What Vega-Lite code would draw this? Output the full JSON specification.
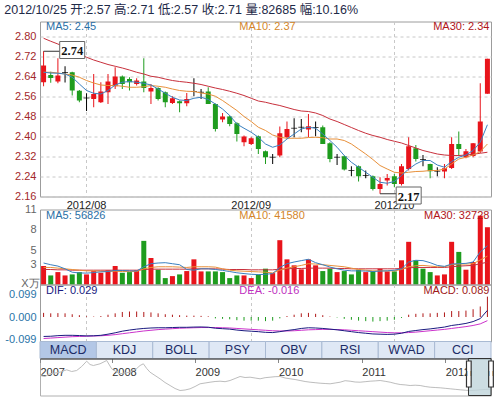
{
"$schema":"https://vega.github.io/schema/vega-lite/v6.json",
"padding":{"left":4,"top":3.5,"right":0,"bottom":0},
"background":"white",
"title":{"text":"2012/10/25 开:2.57 高:2.71 低:2.57 收:2.71 量:82685 幅:10.16%","anchor":"start","fontSize":12.5,"fontWeight":"normal","font":"Liberation Sans, Noto Sans CJK SC","color":"#1e2a48","offset":4},
"config":{"view":{"stroke":"#9c9c9c"},"axis":{"labelFont":"Liberation Sans","titleFont":"Liberation Sans","labelOverlap":false},"text":{"font":"Liberation Sans"}},
"datasets":{
"k":[
{"d":"07-24","o":2.616,"h":2.74,"l":2.60,"c":2.683,"dir":"up","v":2.71,"vd":"up","m5":2.656,"m10":2.656,"m30":2.792,"vm5":3.15,"vm10":2.5,"vm30":2.2,"dif":-0.085,"dea":-0.094,"macd":0.018},
{"d":"07-25","o":2.645,"h":2.658,"l":2.614,"c":2.633,"dir":"down","v":1.33,"vd":"down","m5":2.653,"m10":2.656,"m30":2.78,"vm5":2.9,"vm10":2.5,"vm30":2.2,"dif":-0.084,"dea":-0.092,"macd":0.016},
{"d":"07-26","o":2.619,"h":2.712,"l":2.612,"c":2.643,"dir":"up","v":1.82,"vd":"up","m5":2.652,"m10":2.653,"m30":2.769,"vm5":2.7,"vm10":2.4,"vm30":2.15,"dif":-0.0815,"dea":-0.09,"macd":0.017},
{"d":"07-27","o":2.655,"h":2.68,"l":2.615,"c":2.655,"dir":"flat","v":1.33,"vd":"up","m5":2.649,"m10":2.649,"m30":2.756,"vm5":2.3,"vm10":2.3,"vm30":2.15,"dif":-0.08,"dea":-0.088,"macd":0.016},
{"d":"07-30","o":2.656,"h":2.658,"l":2.563,"c":2.583,"dir":"down","v":1.48,"vd":"down","m5":2.636,"m10":2.645,"m30":2.743,"vm5":1.8,"vm10":2.2,"vm30":2.1,"dif":-0.08,"dea":-0.086,"macd":0.012},
{"d":"07-31","o":2.582,"h":2.585,"l":2.536,"c":2.543,"dir":"down","v":1.82,"vd":"down","m5":2.609,"m10":2.636,"m30":2.729,"vm5":1.7,"vm10":2.1,"vm30":2.1,"dif":-0.081,"dea":-0.085,"macd":0.008},
{"d":"08-01","o":2.553,"h":2.572,"l":2.501,"c":2.553,"dir":"flat","v":1.48,"vd":"up","m5":2.583,"m10":2.623,"m30":2.716,"vm5":1.67,"vm10":2.0,"vm30":2.1,"dif":-0.0825,"dea":-0.084,"macd":0.003},
{"d":"08-02","o":2.549,"h":2.649,"l":2.516,"c":2.569,"dir":"up","v":1.97,"vd":"up","m5":2.572,"m10":2.613,"m30":2.705,"vm5":1.75,"vm10":2.0,"vm30":2.1,"dif":-0.082,"dea":-0.083,"macd":0.002},
{"d":"08-03","o":2.536,"h":2.616,"l":2.533,"c":2.579,"dir":"up","v":1.72,"vd":"up","m5":2.569,"m10":2.605,"m30":2.696,"vm5":1.85,"vm10":1.95,"vm30":2.1,"dif":-0.08,"dea":-0.082,"macd":0.004},
{"d":"08-06","o":2.576,"h":2.649,"l":2.529,"c":2.619,"dir":"up","v":2.07,"vd":"up","m5":2.583,"m10":2.603,"m30":2.687,"vm5":1.9,"vm10":1.9,"vm30":2.1,"dif":-0.075,"dea":-0.08,"macd":0.01},
{"d":"08-07","o":2.60,"h":2.676,"l":2.589,"c":2.639,"dir":"up","v":2.71,"vd":"up","m5":2.605,"m10":2.603,"m30":2.68,"vm5":2.07,"vm10":1.95,"vm30":2.1,"dif":-0.069,"dea":-0.077,"macd":0.016},
{"d":"08-08","o":2.639,"h":2.643,"l":2.589,"c":2.609,"dir":"down","v":1.72,"vd":"down","m5":2.616,"m10":2.60,"m30":2.673,"vm5":2.05,"vm10":1.9,"vm30":2.1,"dif":-0.062,"dea":-0.073,"macd":0.022},
{"d":"08-09","o":2.629,"h":2.636,"l":2.583,"c":2.616,"dir":"down","v":1.82,"vd":"down","m5":2.619,"m10":2.596,"m30":2.665,"vm5":2.0,"vm10":1.9,"vm30":2.1,"dif":-0.057,"dea":-0.069,"macd":0.024},
{"d":"08-10","o":2.609,"h":2.632,"l":2.603,"c":2.623,"dir":"up","v":2.07,"vd":"up","m5":2.616,"m10":2.596,"m30":2.656,"vm5":1.97,"vm10":1.9,"vm30":2.1,"dif":-0.053,"dea":-0.065,"macd":0.024},
{"d":"08-13","o":2.619,"h":2.712,"l":2.576,"c":2.593,"dir":"down","v":6.4,"vd":"down","m5":2.612,"m10":2.598,"m30":2.649,"vm5":2.6,"vm10":2.3,"vm30":2.2,"dif":-0.05,"dea":-0.061,"macd":0.022},
{"d":"08-14","o":2.579,"h":2.609,"l":2.529,"c":2.593,"dir":"up","v":3.89,"vd":"up","m5":2.605,"m10":2.603,"m30":2.64,"vm5":3.05,"vm10":2.5,"vm30":2.25,"dif":-0.048,"dea":-0.058,"macd":0.02},
{"d":"08-15","o":2.593,"h":2.596,"l":2.543,"c":2.549,"dir":"down","v":2.17,"vd":"down","m5":2.589,"m10":2.60,"m30":2.636,"vm5":3.15,"vm10":2.6,"vm30":2.25,"dif":-0.047,"dea":-0.055,"macd":0.016},
{"d":"08-16","o":2.576,"h":2.579,"l":2.516,"c":2.536,"dir":"down","v":0.94,"vd":"down","m5":2.572,"m10":2.596,"m30":2.629,"vm5":3.2,"vm10":2.6,"vm30":2.25,"dif":-0.047,"dea":-0.053,"macd":0.012},
{"d":"08-17","o":2.533,"h":2.56,"l":2.529,"c":2.552,"dir":"up","v":1.23,"vd":"up","m5":2.556,"m10":2.589,"m30":2.623,"vm5":3.05,"vm10":2.6,"vm30":2.25,"dif":-0.046,"dea":-0.051,"macd":0.01},
{"d":"08-20","o":2.54,"h":2.543,"l":2.496,"c":2.532,"dir":"down","v":1.48,"vd":"down","m5":2.545,"m10":2.583,"m30":2.619,"vm5":2.9,"vm10":2.55,"vm30":2.25,"dif":-0.045,"dea":-0.049,"macd":0.008},
{"d":"08-21","o":2.532,"h":2.573,"l":2.52,"c":2.549,"dir":"up","v":1.97,"vd":"up","m5":2.543,"m10":2.58,"m30":2.616,"vm5":2.2,"vm10":2.5,"vm30":2.25,"dif":-0.045,"dea":-0.048,"macd":0.006},
{"d":"08-22","o":2.579,"h":2.632,"l":2.56,"c":2.579,"dir":"flat","v":3.69,"vd":"up","m5":2.552,"m10":2.579,"m30":2.612,"vm5":2.1,"vm10":2.6,"vm30":2.3,"dif":-0.044,"dea":-0.047,"macd":0.006},
{"d":"08-23","o":2.576,"h":2.589,"l":2.549,"c":2.576,"dir":"flat","v":1.92,"vd":"up","m5":2.556,"m10":2.573,"m30":2.607,"vm5":2.3,"vm10":2.6,"vm30":2.3,"dif":-0.0435,"dea":-0.046,"macd":0.005},
{"d":"08-24","o":2.579,"h":2.596,"l":2.529,"c":2.529,"dir":"down","v":1.92,"vd":"down","m5":2.547,"m10":2.569,"m30":2.60,"vm5":2.3,"vm10":2.6,"vm30":2.3,"dif":-0.0445,"dea":-0.046,"macd":0.003},
{"d":"08-27","o":2.529,"h":2.531,"l":2.419,"c":2.429,"dir":"down","v":1.92,"vd":"down","m5":2.529,"m10":2.56,"m30":2.593,"vm5":2.2,"vm10":2.55,"vm30":2.3,"dif":-0.049,"dea":-0.046,"macd":-0.006},
{"d":"08-28","o":2.467,"h":2.493,"l":2.456,"c":2.479,"dir":"up","v":1.82,"vd":"down","m5":2.509,"m10":2.543,"m30":2.587,"vm5":2.07,"vm10":2.3,"vm30":2.25,"dif":-0.051,"dea":-0.047,"macd":-0.008},
{"d":"08-29","o":2.479,"h":2.483,"l":2.44,"c":2.449,"dir":"down","v":0.94,"vd":"down","m5":2.483,"m10":2.523,"m30":2.58,"vm5":1.9,"vm10":2.1,"vm30":2.2,"dif":-0.053,"dea":-0.048,"macd":-0.01},
{"d":"08-30","o":2.452,"h":2.456,"l":2.379,"c":2.409,"dir":"down","v":1.33,"vd":"down","m5":2.449,"m10":2.503,"m30":2.572,"vm5":1.72,"vm10":2.0,"vm30":2.2,"dif":-0.057,"dea":-0.05,"macd":-0.014},
{"d":"08-31","o":2.376,"h":2.403,"l":2.36,"c":2.399,"dir":"up","v":1.33,"vd":"up","m5":2.432,"m10":2.479,"m30":2.563,"vm5":1.6,"vm10":1.95,"vm30":2.2,"dif":-0.06,"dea":-0.052,"macd":-0.016},
{"d":"09-03","o":2.369,"h":2.396,"l":2.365,"c":2.392,"dir":"up","v":0.94,"vd":"up","m5":2.416,"m10":2.459,"m30":2.552,"vm5":1.5,"vm10":1.9,"vm30":2.15,"dif":-0.062,"dea":-0.054,"macd":-0.016},
{"d":"09-04","o":2.40,"h":2.403,"l":2.329,"c":2.349,"dir":"down","v":1.48,"vd":"down","m5":2.396,"m10":2.436,"m30":2.541,"vm5":1.45,"vm10":1.85,"vm30":2.15,"dif":-0.064,"dea":-0.056,"macd":-0.016},
{"d":"09-05","o":2.34,"h":2.343,"l":2.289,"c":2.316,"dir":"down","v":2.32,"vd":"down","m5":2.369,"m10":2.423,"m30":2.536,"vm5":1.5,"vm10":1.8,"vm30":2.15,"dif":-0.067,"dea":-0.058,"macd":-0.018},
{"d":"09-06","o":2.316,"h":2.329,"l":2.289,"c":2.316,"dir":"flat","v":1.67,"vd":"up","m5":2.356,"m10":2.405,"m30":2.529,"vm5":1.6,"vm10":1.7,"vm30":2.15,"dif":-0.068,"dea":-0.06,"macd":-0.016},
{"d":"09-07","o":2.323,"h":2.439,"l":2.316,"c":2.412,"dir":"up","v":6.5,"vd":"up","m5":2.365,"m10":2.396,"m30":2.523,"vm5":2.5,"vm10":2.1,"vm30":2.25,"dif":-0.064,"dea":-0.061,"macd":-0.006},
{"d":"09-10","o":2.396,"h":2.459,"l":2.392,"c":2.429,"dir":"up","v":3.69,"vd":"up","m5":2.389,"m10":2.392,"m30":2.515,"vm5":3.05,"vm10":2.4,"vm30":2.3,"dif":-0.059,"dea":-0.061,"macd":0.004},
{"d":"09-11","o":2.432,"h":2.472,"l":2.396,"c":2.432,"dir":"flat","v":2.81,"vd":"up","m5":2.409,"m10":2.392,"m30":2.507,"vm5":3.3,"vm10":2.6,"vm30":2.35,"dif":-0.055,"dea":-0.06,"macd":0.01},
{"d":"09-12","o":2.436,"h":2.469,"l":2.416,"c":2.436,"dir":"flat","v":2.22,"vd":"up","m5":2.429,"m10":2.392,"m30":2.501,"vm5":3.5,"vm10":2.8,"vm30":2.35,"dif":-0.05,"dea":-0.058,"macd":0.016},
{"d":"09-13","o":2.427,"h":2.489,"l":2.396,"c":2.44,"dir":"up","v":3.69,"vd":"up","m5":2.436,"m10":2.395,"m30":2.499,"vm5":3.7,"vm10":3.05,"vm30":2.4,"dif":-0.047,"dea":-0.056,"macd":0.018},
{"d":"09-14","o":2.435,"h":2.459,"l":2.40,"c":2.435,"dir":"flat","v":2.81,"vd":"up","m5":2.432,"m10":2.396,"m30":2.493,"vm5":3.2,"vm10":3.0,"vm30":2.4,"dif":-0.048,"dea":-0.055,"macd":0.014},
{"d":"09-17","o":2.436,"h":2.443,"l":2.369,"c":2.369,"dir":"down","v":1.97,"vd":"down","m5":2.409,"m10":2.394,"m30":2.483,"vm5":2.9,"vm10":2.9,"vm30":2.4,"dif":-0.05,"dea":-0.054,"macd":0.008},
{"d":"09-18","o":2.372,"h":2.376,"l":2.296,"c":2.309,"dir":"down","v":2.32,"vd":"down","m5":2.383,"m10":2.389,"m30":2.469,"vm5":2.56,"vm10":2.8,"vm30":2.4,"dif":-0.053,"dea":-0.054,"macd":0.002},
{"d":"09-19","o":2.316,"h":2.329,"l":2.285,"c":2.316,"dir":"flat","v":1.82,"vd":"up","m5":2.356,"m10":2.389,"m30":2.459,"vm5":2.3,"vm10":2.7,"vm30":2.35,"dif":-0.056,"dea":-0.055,"macd":-0.002},
{"d":"09-20","o":2.32,"h":2.323,"l":2.263,"c":2.267,"dir":"down","v":1.97,"vd":"down","m5":2.323,"m10":2.383,"m30":2.447,"vm5":2.1,"vm10":2.6,"vm30":2.35,"dif":-0.06,"dea":-0.056,"macd":-0.008},
{"d":"09-21","o":2.263,"h":2.28,"l":2.24,"c":2.263,"dir":"flat","v":1.48,"vd":"down","m5":2.296,"m10":2.369,"m30":2.435,"vm5":2.0,"vm10":2.4,"vm30":2.3,"dif":-0.064,"dea":-0.058,"macd":-0.012},
{"d":"09-24","o":2.28,"h":2.283,"l":2.219,"c":2.24,"dir":"down","v":2.17,"vd":"down","m5":2.276,"m10":2.349,"m30":2.423,"vm5":2.0,"vm10":2.2,"vm30":2.3,"dif":-0.068,"dea":-0.06,"macd":-0.016},
{"d":"09-25","o":2.243,"h":2.263,"l":2.232,"c":2.243,"dir":"flat","v":1.82,"vd":"up","m5":2.256,"m10":2.329,"m30":2.412,"vm5":1.97,"vm10":2.1,"vm30":2.3,"dif":-0.071,"dea":-0.062,"macd":-0.018},
{"d":"09-26","o":2.24,"h":2.243,"l":2.183,"c":2.189,"dir":"down","v":1.97,"vd":"down","m5":2.236,"m10":2.307,"m30":2.403,"vm5":1.9,"vm10":2.0,"vm30":2.3,"dif":-0.074,"dea":-0.064,"macd":-0.02},
{"d":"09-27","o":2.189,"h":2.236,"l":2.17,"c":2.209,"dir":"up","v":2.32,"vd":"up","m5":2.216,"m10":2.283,"m30":2.396,"vm5":1.97,"vm10":2.0,"vm30":2.3,"dif":-0.075,"dea":-0.066,"macd":-0.018},
{"d":"09-28","o":2.223,"h":2.249,"l":2.203,"c":2.233,"dir":"up","v":1.92,"vd":"up","m5":2.212,"m10":2.269,"m30":2.387,"vm5":2.0,"vm10":2.0,"vm30":2.3,"dif":-0.076,"dea":-0.068,"macd":-0.016},
{"d":"10-08","o":2.24,"h":2.249,"l":2.196,"c":2.209,"dir":"down","v":1.92,"vd":"down","m5":2.219,"m10":2.256,"m30":2.38,"vm5":2.1,"vm10":2.0,"vm30":2.3,"dif":-0.075,"dea":-0.069,"macd":-0.012},
{"d":"10-09","o":2.209,"h":2.289,"l":2.203,"c":2.28,"dir":"up","v":3.55,"vd":"up","m5":2.243,"m10":2.253,"m30":2.373,"vm5":2.3,"vm10":2.2,"vm30":2.35,"dif":-0.071,"dea":-0.069,"macd":-0.004},
{"d":"10-10","o":2.269,"h":2.396,"l":2.263,"c":2.36,"dir":"up","v":6.26,"vd":"up","m5":2.269,"m10":2.256,"m30":2.363,"vm5":3.3,"vm10":2.6,"vm30":2.45,"dif":-0.063,"dea":-0.068,"macd":0.01},
{"d":"10-11","o":2.352,"h":2.365,"l":2.299,"c":2.309,"dir":"down","v":3.55,"vd":"down","m5":2.289,"m10":2.259,"m30":2.353,"vm5":3.55,"vm10":2.75,"vm30":2.5,"dif":-0.059,"dea":-0.066,"macd":0.014},
{"d":"10-12","o":2.307,"h":2.325,"l":2.28,"c":2.307,"dir":"flat","v":2.32,"vd":"down","m5":2.303,"m10":2.26,"m30":2.343,"vm5":3.5,"vm10":2.8,"vm30":2.5,"dif":-0.055,"dea":-0.063,"macd":0.016},
{"d":"10-15","o":2.289,"h":2.29,"l":2.232,"c":2.26,"dir":"down","v":1.82,"vd":"down","m5":2.303,"m10":2.263,"m30":2.336,"vm5":3.2,"vm10":2.7,"vm30":2.5,"dif":-0.052,"dea":-0.06,"macd":0.016},
{"d":"10-16","o":2.26,"h":2.276,"l":2.24,"c":2.26,"dir":"flat","v":1.33,"vd":"up","m5":2.285,"m10":2.263,"m30":2.329,"vm5":2.8,"vm10":2.6,"vm30":2.5,"dif":-0.048,"dea":-0.057,"macd":0.018},
{"d":"10-17","o":2.259,"h":2.289,"l":2.232,"c":2.272,"dir":"up","v":1.48,"vd":"up","m5":2.276,"m10":2.269,"m30":2.325,"vm5":2.66,"vm10":2.6,"vm30":2.5,"dif":-0.044,"dea":-0.054,"macd":0.02},
{"d":"10-18","o":2.273,"h":2.396,"l":2.269,"c":2.369,"dir":"up","v":6.26,"vd":"up","m5":2.299,"m10":2.289,"m30":2.323,"vm5":3.0,"vm10":2.9,"vm30":2.6,"dif":-0.037,"dea":-0.05,"macd":0.026},
{"d":"10-19","o":2.369,"h":2.419,"l":2.32,"c":2.349,"dir":"down","v":4.78,"vd":"down","m5":2.316,"m10":2.309,"m30":2.323,"vm5":3.05,"vm10":3.0,"vm30":2.7,"dif":-0.033,"dea":-0.046,"macd":0.026},
{"d":"10-22","o":2.316,"h":2.349,"l":2.312,"c":2.34,"dir":"up","v":2.17,"vd":"up","m5":2.325,"m10":2.316,"m30":2.325,"vm5":3.1,"vm10":3.0,"vm30":2.75,"dif":-0.028,"dea":-0.042,"macd":0.028},
{"d":"10-23","o":2.321,"h":2.373,"l":2.316,"c":2.372,"dir":"up","v":3.3,"vd":"up","m5":2.343,"m10":2.325,"m30":2.328,"vm5":3.3,"vm10":3.05,"vm30":2.8,"dif":-0.02,"dea":-0.037,"macd":0.034},
{"d":"10-24","o":2.339,"h":2.612,"l":2.333,"c":2.459,"dir":"up","v":10.1,"vd":"up","m5":2.376,"m10":2.339,"m30":2.332,"vm5":4.78,"vm10":3.6,"vm30":3.05,"dif":-0.007,"dea":-0.03,"macd":0.046},
{"d":"10-25","o":2.57,"h":2.71,"l":2.57,"c":2.71,"dir":"up","v":8.4,"vd":"up","m5":2.446,"m10":2.369,"m30":2.336,"vm5":5.68,"vm10":4.16,"vm30":3.27,"dif":0.029,"dea":-0.016,"macd":0.089}
],
"ov":[
{"t":2007.14,"v":20},{"t":2007.2,"v":19},{"t":2007.26,"v":21.7},{"t":2007.32,"v":22.5},{"t":2007.38,"v":23.3},{"t":2007.46,"v":25.7},{"t":2007.52,"v":24},{"t":2007.58,"v":25},{"t":2007.64,"v":29},{"t":2007.7,"v":34.3},{"t":2007.74,"v":31},{"t":2007.78,"v":30},{"t":2007.86,"v":31.7},{"t":2007.94,"v":35},{"t":2008.0,"v":26.7},{"t":2008.05,"v":24},{"t":2008.1,"v":21.7},{"t":2008.16,"v":22.5},{"t":2008.22,"v":23.3},{"t":2008.3,"v":27},{"t":2008.34,"v":30},{"t":2008.38,"v":31.7},{"t":2008.42,"v":27},{"t":2008.46,"v":23.3},{"t":2008.52,"v":20},{"t":2008.58,"v":16.7},{"t":2008.64,"v":13},{"t":2008.7,"v":10},{"t":2008.76,"v":7},{"t":2008.82,"v":5},{"t":2008.88,"v":5.5},{"t":2008.94,"v":6.7},{"t":2009.0,"v":9},{"t":2009.06,"v":11.7},{"t":2009.12,"v":12.5},{"t":2009.18,"v":13.3},{"t":2009.24,"v":14},{"t":2009.3,"v":14.3},{"t":2009.36,"v":13.8},{"t":2009.42,"v":15},{"t":2009.48,"v":17},{"t":2009.54,"v":19},{"t":2009.6,"v":18},{"t":2009.66,"v":18.3},{"t":2009.72,"v":17.5},{"t":2009.78,"v":16.7},{"t":2009.84,"v":17.8},{"t":2009.9,"v":18.3},{"t":2009.96,"v":18.8},{"t":2010.02,"v":19},{"t":2010.08,"v":17.5},{"t":2010.14,"v":16.7},{"t":2010.2,"v":16},{"t":2010.26,"v":15},{"t":2010.32,"v":14},{"t":2010.38,"v":13.3},{"t":2010.44,"v":12.8},{"t":2010.5,"v":12.3},{"t":2010.56,"v":12},{"t":2010.62,"v":11.7},{"t":2010.68,"v":12.5},{"t":2010.74,"v":13.3},{"t":2010.8,"v":14.8},{"t":2010.86,"v":14.3},{"t":2010.92,"v":13.5},{"t":2010.98,"v":13.3},{"t":2011.04,"v":13.8},{"t":2011.1,"v":14.3},{"t":2011.16,"v":14.6},{"t":2011.22,"v":15},{"t":2011.28,"v":14.2},{"t":2011.34,"v":13.3},{"t":2011.4,"v":12},{"t":2011.46,"v":11},{"t":2011.52,"v":10.6},{"t":2011.58,"v":10},{"t":2011.64,"v":10.3},{"t":2011.7,"v":10},{"t":2011.76,"v":9},{"t":2011.82,"v":8.3},{"t":2011.88,"v":8},{"t":2011.94,"v":7.7},{"t":2012.0,"v":7.2},{"t":2012.06,"v":6.7},{"t":2012.12,"v":6.2},{"t":2012.18,"v":5.7},{"t":2012.24,"v":5.3},{"t":2012.3,"v":5},{"t":2012.36,"v":5.3},{"t":2012.42,"v":5.7},{"t":2012.48,"v":6},{"t":2012.54,"v":6.3}
],
"tabs":[{"n":"MACD","s":"y"},{"n":"KDJ","s":"n"},{"n":"BOLL","s":"n"},{"n":"PSY","s":"n"},{"n":"OBV","s":"n"},{"n":"RSI","s":"n"},{"n":"WVAD","s":"n"},{"n":"CCI","s":"n"}]
},
"spacing":13,
"bounds":"flush",
"resolve":{"scale":{"color":"independent"}},
"vconcat":[
{
"width":451,"height":175,
"encoding":{"x":{"field":"d","type":"ordinal","scale":{"type":"band","paddingInner":0,"paddingOuter":0},"axis":{"values":["08-01","09-03","10-08"],"labelExpr":"datum.value=='08-01'?'2012/08':datum.value=='09-03'?'2012/09':'2012/10'","title":null,"ticks":false,"domain":false,"grid":true,"gridDash":[3,3],"gridColor":"#c8c8c8","bandPosition":0.5,"labelColor":"#222222","labelFontSize":11,"labelPadding":3,"labelAngle":0}}},
"layer":[
{"data":{"name":"k"},"mark":{"type":"rule","strokeWidth":1},"encoding":{"y":{"field":"l","type":"quantitative","scale":{"domain":[2.159,2.859],"zero":false,"nice":false},"axis":{"values":[2.16,2.24,2.32,2.40,2.48,2.56,2.64,2.72,2.80],"format":".2f","title":null,"ticks":false,"domain":false,"grid":true,"gridDash":[3,3],"gridColor":"#c8c8c8","labelColor":"#a3282b","labelFontSize":11,"labelPadding":4,"labelOverlap":false}},"y2":{"field":"h"},"color":{"field":"dir","type":"nominal","scale":{"domain":["up","down","flat"],"range":["#e8141b","#1e9c1e","#000000"]},"legend":null}}},
{"data":{"name":"k"},"mark":{"type":"bar","size":5},"encoding":{"y":{"field":"o","type":"quantitative","axis":{"values":[2.16,2.24,2.32,2.40,2.48,2.56,2.64,2.72,2.80],"format":".2f","title":null,"ticks":false,"domain":false,"grid":true,"gridDash":[3,3],"gridColor":"#c8c8c8","labelColor":"#a3282b","labelFontSize":11,"labelPadding":4,"labelOverlap":false}},"y2":{"field":"c"},"color":{"field":"dir","type":"nominal","legend":null}}},
{"data":{"name":"k"},"transform":[{"filter":"datum.dir=='flat'"}],"mark":{"type":"tick","size":6,"thickness":1,"color":"#000000"},"encoding":{"y":{"field":"c","type":"quantitative","axis":{"values":[2.16,2.24,2.32,2.40,2.48,2.56,2.64,2.72,2.80],"format":".2f","title":null,"ticks":false,"domain":false,"grid":true,"gridDash":[3,3],"gridColor":"#c8c8c8","labelColor":"#a3282b","labelFontSize":11,"labelPadding":4,"labelOverlap":false}}}},
{"data":{"name":"k"},"mark":{"type":"line","color":"#c8303c","strokeWidth":1},"encoding":{"y":{"field":"m30","type":"quantitative","axis":{"values":[2.16,2.24,2.32,2.40,2.48,2.56,2.64,2.72,2.80],"format":".2f","title":null,"ticks":false,"domain":false,"grid":true,"gridDash":[3,3],"gridColor":"#c8c8c8","labelColor":"#a3282b","labelFontSize":11,"labelPadding":4,"labelOverlap":false}}}},
{"data":{"name":"k"},"mark":{"type":"line","color":"#e8903a","strokeWidth":1},"encoding":{"y":{"field":"m10","type":"quantitative","axis":{"values":[2.16,2.24,2.32,2.40,2.48,2.56,2.64,2.72,2.80],"format":".2f","title":null,"ticks":false,"domain":false,"grid":true,"gridDash":[3,3],"gridColor":"#c8c8c8","labelColor":"#a3282b","labelFontSize":11,"labelPadding":4,"labelOverlap":false}}}},
{"data":{"name":"k"},"mark":{"type":"line","color":"#3a80c0","strokeWidth":1},"encoding":{"y":{"field":"m5","type":"quantitative","axis":{"values":[2.16,2.24,2.32,2.40,2.48,2.56,2.64,2.72,2.80],"format":".2f","title":null,"ticks":false,"domain":false,"grid":true,"gridDash":[3,3],"gridColor":"#c8c8c8","labelColor":"#a3282b","labelFontSize":11,"labelPadding":4,"labelOverlap":false}}}},
{"data":{"values":[{"d":"07-24","y":2.74,"g":"a"},{"d":"07-30","y":2.74,"g":"a"},{"d":"09-27","y":2.17,"g":"b"},{"d":"10-10","y":2.17,"g":"b"}]},"mark":{"type":"line","color":"#333333","strokeWidth":1},"encoding":{"y":{"field":"y","type":"quantitative","axis":{"values":[2.16,2.24,2.32,2.40,2.48,2.56,2.64,2.72,2.80],"format":".2f","title":null,"ticks":false,"domain":false,"grid":true,"gridDash":[3,3],"gridColor":"#c8c8c8","labelColor":"#a3282b","labelFontSize":11,"labelPadding":4,"labelOverlap":false}},"detail":{"field":"g"}}},
{"data":{"values":[{"d":"07-30","y":2.745,"t":"2.74"},{"d":"10-10","y":2.163,"t":"2.17"}]},"mark":{"type":"point","shape":"M-1,-0.68H1V0.68H-1Z","size":625,"filled":true,"fill":"white","stroke":"#666666","strokeWidth":1,"opacity":1},"encoding":{"y":{"field":"y","type":"quantitative","axis":{"values":[2.16,2.24,2.32,2.40,2.48,2.56,2.64,2.72,2.80],"format":".2f","title":null,"ticks":false,"domain":false,"grid":true,"gridDash":[3,3],"gridColor":"#c8c8c8","labelColor":"#a3282b","labelFontSize":11,"labelPadding":4,"labelOverlap":false}}}},
{"data":{"values":[{"d":"07-30","y":2.745,"t":"2.74"},{"d":"10-10","y":2.163,"t":"2.17"}]},"mark":{"type":"text","font":"Liberation Serif","fontWeight":"bold","fontSize":12.5,"color":"#111111","baseline":"middle","dy":1},"encoding":{"y":{"field":"y","type":"quantitative","axis":{"values":[2.16,2.24,2.32,2.40,2.48,2.56,2.64,2.72,2.80],"format":".2f","title":null,"ticks":false,"domain":false,"grid":true,"gridDash":[3,3],"gridColor":"#c8c8c8","labelColor":"#a3282b","labelFontSize":11,"labelPadding":4,"labelOverlap":false}},"text":{"field":"t"}}},
{"data":{"values":[{"d":"07-24","y":2.838,"t":"MA5: 2.45","c":"a"},{"d":"08-30","y":2.838,"t":"MA10: 2.37","c":"b"}]},"mark":{"type":"text","align":"left","baseline":"middle","dx":2.5,"fontSize":11},"encoding":{"y":{"field":"y","type":"quantitative","axis":{"values":[2.16,2.24,2.32,2.40,2.48,2.56,2.64,2.72,2.80],"format":".2f","title":null,"ticks":false,"domain":false,"grid":true,"gridDash":[3,3],"gridColor":"#c8c8c8","labelColor":"#a3282b","labelFontSize":11,"labelPadding":4,"labelOverlap":false}},"text":{"field":"t"},"color":{"condition":{"test":"datum.c=='a'","value":"#2a6fa6"},"value":"#d4862a"}}},
{"data":{"values":[{"d":"10-25","y":2.838,"t":"MA30: 2.34"}]},"mark":{"type":"text","align":"right","baseline":"middle","dx":2,"fontSize":11,"color":"#b0151a"},"encoding":{"y":{"field":"y","type":"quantitative","axis":{"values":[2.16,2.24,2.32,2.40,2.48,2.56,2.64,2.72,2.80],"format":".2f","title":null,"ticks":false,"domain":false,"grid":true,"gridDash":[3,3],"gridColor":"#c8c8c8","labelColor":"#a3282b","labelFontSize":11,"labelPadding":4,"labelOverlap":false}},"text":{"field":"t"}}}
]
},
{
"spacing":0,
"bounds":"flush",
"resolve":{"scale":{"color":"independent"}},
"vconcat":[
{
"width":451,"height":75,
"encoding":{"x":{"field":"d","type":"ordinal","scale":{"type":"band","paddingInner":0,"paddingOuter":0},"axis":{"values":["08-01","09-03","10-08"],"labels":false,"title":null,"ticks":false,"domain":false,"grid":true,"gridDash":[3,3],"gridColor":"#c8c8c8","bandPosition":0.5}}},
"layer":[
{"data":{"name":"k"},"mark":{"type":"bar","size":5},"encoding":{"y":{"field":"v","type":"quantitative","scale":{"domain":[0,11],"nice":false},"axis":{"values":[3,5,8,11],"title":"X万","titleAngle":0,"titleX":-10,"titleY":74,"titleAlign":"center","titleBaseline":"middle","titleFontSize":11,"titleFontWeight":"normal","titleColor":"#666666","ticks":false,"domain":false,"grid":false,"labelColor":"#666666","labelFontSize":11,"labelPadding":4,"labelOverlap":false}},"color":{"condition":{"test":"datum.vd=='up'","value":"#e8141b"},"value":"#1e9c1e"}}},
{"data":{"name":"k"},"mark":{"type":"line","color":"#c8303c","strokeWidth":1},"encoding":{"y":{"field":"vm30","type":"quantitative","axis":{"values":[3,5,8,11],"title":"X万","titleAngle":0,"titleX":-10,"titleY":74,"titleAlign":"center","titleBaseline":"middle","titleFontSize":11,"titleFontWeight":"normal","titleColor":"#666666","ticks":false,"domain":false,"grid":false,"labelColor":"#666666","labelFontSize":11,"labelPadding":4,"labelOverlap":false}}}},
{"data":{"name":"k"},"mark":{"type":"line","color":"#e8903a","strokeWidth":1},"encoding":{"y":{"field":"vm10","type":"quantitative","axis":{"values":[3,5,8,11],"title":"X万","titleAngle":0,"titleX":-10,"titleY":74,"titleAlign":"center","titleBaseline":"middle","titleFontSize":11,"titleFontWeight":"normal","titleColor":"#666666","ticks":false,"domain":false,"grid":false,"labelColor":"#666666","labelFontSize":11,"labelPadding":4,"labelOverlap":false}}}},
{"data":{"name":"k"},"mark":{"type":"line","color":"#3a80c0","strokeWidth":1},"encoding":{"y":{"field":"vm5","type":"quantitative","axis":{"values":[3,5,8,11],"title":"X万","titleAngle":0,"titleX":-10,"titleY":74,"titleAlign":"center","titleBaseline":"middle","titleFontSize":11,"titleFontWeight":"normal","titleColor":"#666666","ticks":false,"domain":false,"grid":false,"labelColor":"#666666","labelFontSize":11,"labelPadding":4,"labelOverlap":false}}}},
{"data":{"values":[{"d":"07-24","y":10.04,"t":"MA5: 56826","c":"a"},{"d":"08-30","y":10.04,"t":"MA10: 41580","c":"b"}]},"mark":{"type":"text","align":"left","baseline":"middle","dx":2.5,"fontSize":11},"encoding":{"y":{"field":"y","type":"quantitative","axis":{"values":[3,5,8,11],"title":"X万","titleAngle":0,"titleX":-10,"titleY":74,"titleAlign":"center","titleBaseline":"middle","titleFontSize":11,"titleFontWeight":"normal","titleColor":"#666666","ticks":false,"domain":false,"grid":false,"labelColor":"#666666","labelFontSize":11,"labelPadding":4,"labelOverlap":false}},"text":{"field":"t"},"color":{"condition":{"test":"datum.c=='a'","value":"#2a6fa6"},"value":"#d4862a"}}},
{"data":{"values":[{"d":"10-25","y":10.04,"t":"MA30: 32728"}]},"mark":{"type":"text","align":"right","baseline":"middle","dx":2,"fontSize":11,"color":"#b0151a"},"encoding":{"y":{"field":"y","type":"quantitative","axis":{"values":[3,5,8,11],"title":"X万","titleAngle":0,"titleX":-10,"titleY":74,"titleAlign":"center","titleBaseline":"middle","titleFontSize":11,"titleFontWeight":"normal","titleColor":"#666666","ticks":false,"domain":false,"grid":false,"labelColor":"#666666","labelFontSize":11,"labelPadding":4,"labelOverlap":false}},"text":{"field":"t"}}}
]
},
{
"width":451,"height":57,
"encoding":{"x":{"field":"d","type":"ordinal","scale":{"type":"band","paddingInner":0,"paddingOuter":0},"axis":{"values":["08-01","09-03","10-08"],"labels":false,"title":null,"ticks":false,"domain":false,"grid":true,"gridDash":[3,3],"gridColor":"#c8c8c8","bandPosition":0.5}}},
"layer":[
{"data":{"name":"k"},"mark":{"type":"rule","strokeWidth":1},"encoding":{"y":{"field":"macd","type":"quantitative","scale":{"domain":[-0.107,0.142],"nice":false,"zero":false},"axis":{"values":[-0.099,0,0.099],"labelExpr":"datum.value<-0.05?'-0.099':datum.value>0.05?'0.099':'0.000'","title":null,"ticks":false,"domain":false,"grid":false,"labelColor":"#2a74a8","labelFontSize":11,"labelPadding":4,"labelOverlap":false}},"y2":{"datum":0},"color":{"condition":{"test":"datum.macd>0","value":"#b01818"},"value":"#1e9c1e"}}},
{"data":{"name":"k"},"mark":{"type":"line","color":"#cc33cc","strokeWidth":1},"encoding":{"y":{"field":"dea","type":"quantitative","axis":{"values":[-0.099,0,0.099],"labelExpr":"datum.value<-0.05?'-0.099':datum.value>0.05?'0.099':'0.000'","title":null,"ticks":false,"domain":false,"grid":false,"labelColor":"#2a74a8","labelFontSize":11,"labelPadding":4,"labelOverlap":false}}}},
{"data":{"name":"k"},"mark":{"type":"line","color":"#1a1a80","strokeWidth":1},"encoding":{"y":{"field":"dif","type":"quantitative","axis":{"values":[-0.099,0,0.099],"labelExpr":"datum.value<-0.05?'-0.099':datum.value>0.05?'0.099':'0.000'","title":null,"ticks":false,"domain":false,"grid":false,"labelColor":"#2a74a8","labelFontSize":11,"labelPadding":4,"labelOverlap":false}}}},
{"data":{"values":[{"d":"07-24","y":0.1144,"t":"DIF: 0.029","c":"a"},{"d":"08-30","y":0.1144,"t":"DEA: -0.016","c":"b"}]},"mark":{"type":"text","align":"left","baseline":"middle","dx":2.5,"fontSize":11},"encoding":{"y":{"field":"y","type":"quantitative","axis":{"values":[-0.099,0,0.099],"labelExpr":"datum.value<-0.05?'-0.099':datum.value>0.05?'0.099':'0.000'","title":null,"ticks":false,"domain":false,"grid":false,"labelColor":"#2a74a8","labelFontSize":11,"labelPadding":4,"labelOverlap":false}},"text":{"field":"t"},"color":{"condition":{"test":"datum.c=='a'","value":"#1a1a80"},"value":"#c030c0"}}},
{"data":{"values":[{"d":"10-25","y":0.1144,"t":"MACD: 0.089"}]},"mark":{"type":"text","align":"right","baseline":"middle","dx":2,"fontSize":11,"color":"#a01818"},"encoding":{"y":{"field":"y","type":"quantitative","axis":{"values":[-0.099,0,0.099],"labelExpr":"datum.value<-0.05?'-0.099':datum.value>0.05?'0.099':'0.000'","title":null,"ticks":false,"domain":false,"grid":false,"labelColor":"#2a74a8","labelFontSize":11,"labelPadding":4,"labelOverlap":false}},"text":{"field":"t"}}}
]
},
{
"width":451,"height":17,
"view":{"stroke":null},
"data":{"name":"tabs"},
"encoding":{"x":{"field":"n","type":"nominal","sort":null,"scale":{"paddingInner":0,"paddingOuter":0},"axis":null}},
"layer":[
{"mark":{"type":"bar","stroke":"#a9bad3","strokeWidth":1},"encoding":{"color":{"condition":{"test":"datum.s=='y'","value":"#b3c7e6"},"value":"#dfe8f5"}}},
{"mark":{"type":"text","fontSize":12.5,"color":"#1b2b66","baseline":"middle"},"encoding":{"text":{"field":"n"}}}
]
},
{
"width":451,"height":37,
"view":{"stroke":"#b0b0b0"},
"layer":[
{"data":{"name":"ov"},"mark":{"type":"line","color":"#bdbdbd","strokeWidth":1},"encoding":{"x":{"field":"t","type":"quantitative","scale":{"domain":[2007.14,2012.55],"nice":false,"zero":false},"axis":{"orient":"top","values":[2007.14,2008,2009,2010,2011,2012],"labelExpr":"datum.value<2007.5?'2007':format(datum.value,'d')","title":null,"grid":false,"tickSize":-4,"tickColor":"#888888","domainColor":"#333333","labelAlign":"left","labelBaseline":"middle","labelPadding":-10,"labelFlush":false,"labelOverlap":false,"labelBound":false,"labelColor":"#333333","labelFontSize":11}},"y":{"field":"v","type":"quantitative","scale":{"domain":[0,37],"nice":false},"axis":null}}},
{"data":{"values":[{"t1":2012.28,"t2":2012.55}]},"mark":{"type":"rect","fill":"#bfd4db","fillOpacity":0.8,"stroke":"#333333","strokeWidth":1},"encoding":{"x":{"field":"t1","type":"quantitative"},"x2":{"field":"t2"},"y":{"datum":0,"type":"quantitative"},"y2":{"datum":37}}},
{"data":{"values":[{"t":2012.284,"v":21.5},{"t":2012.55,"v":21.5}]},"mark":{"type":"point","shape":"M-0.18,-1H0.18V1H-0.18Z","size":676,"filled":true,"fill":"white","stroke":"#333333","strokeWidth":1.2,"opacity":1},"encoding":{"x":{"field":"t","type":"quantitative"},"y":{"field":"v","type":"quantitative"}}},
{"data":{"values":[{"t":2012.284,"v":21.5},{"t":2012.55,"v":21.5}]},"mark":{"type":"text","text":"ǀ ǀ","fontSize":8,"color":"#444444","baseline":"middle"},"encoding":{"x":{"field":"t","type":"quantitative"},"y":{"field":"v","type":"quantitative"}}}
]
}
]
}
]
}
